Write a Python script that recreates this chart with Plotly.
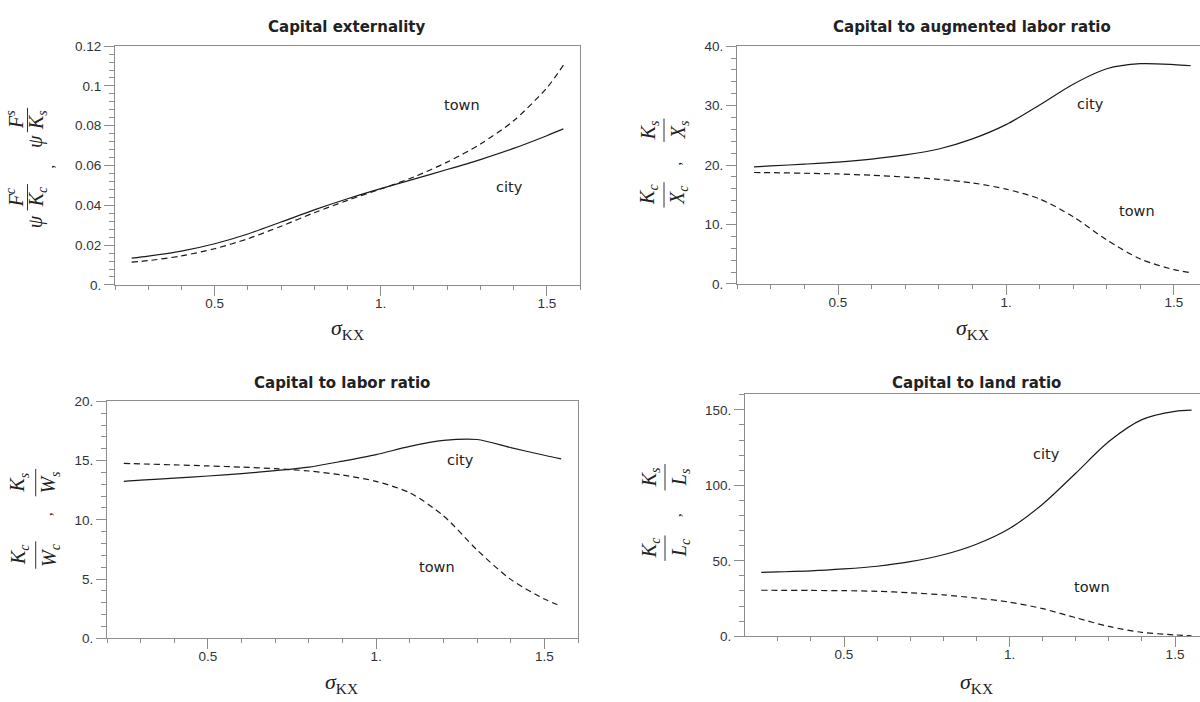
import plotly.graph_objects as go

# ---------------- data ----------------
sigma = [0.25, 0.3, 0.4, 0.5, 0.6, 0.7, 0.8, 0.9, 1.0, 1.1, 1.2, 1.3, 1.4, 1.5, 1.55]

ext_city = [0.0135, 0.0145, 0.0170, 0.0207, 0.0256, 0.0316, 0.0377, 0.0433, 0.0484, 0.0532, 0.0580, 0.0630, 0.0686, 0.0750, 0.0784]
ext_town = [0.0115, 0.0122, 0.0146, 0.0182, 0.0232, 0.0295, 0.0363, 0.0425, 0.0482, 0.0543, 0.0617, 0.0708, 0.0825, 0.0990, 0.1105]

aug_city = [19.7, 19.85, 20.15, 20.5, 21.0, 21.7, 22.7, 24.4, 26.8, 30.1, 33.6, 36.2, 37.05, 36.9, 36.7]
aug_town = [18.75, 18.72, 18.62, 18.5, 18.28, 17.98, 17.6, 17.0, 15.95, 14.3, 11.3, 7.4, 4.2, 2.4, 1.9]

lab_city = [13.24, 13.35, 13.52, 13.7, 13.9, 14.15, 14.45, 14.95, 15.5, 16.2, 16.7, 16.78, 16.1, 15.45, 15.15]
lab_town = [14.76, 14.72, 14.64, 14.55, 14.45, 14.32, 14.12, 13.78, 13.24, 12.28, 10.34, 7.45, 4.97, 3.31, 2.7]

land_city = [42.3, 42.6, 43.3, 44.6, 46.4, 49.4, 54.0, 61.0, 71.4, 87.5, 108.0, 129.0, 143.5, 149.0, 149.8]
land_town = [30.5, 30.45, 30.35, 30.2, 29.8, 28.8, 27.4, 25.3, 22.6, 18.3, 12.3, 6.5, 2.6, 0.9, 0.3]

x_tickvals = [0.5, 1.0, 1.5]
x_ticktext = ["0.5", "1.", "1.5"]
ext_tickvals = [0, 0.02, 0.04, 0.06, 0.08, 0.1, 0.12]
ext_ticktext = ["0.", "0.02", "0.04", "0.06", "0.08", "0.1", "0.12"]
aug_tickvals = [0, 10, 20, 30, 40]
aug_ticktext = ["0.", "10.", "20.", "30.", "40."]
lab_tickvals = [0, 5, 10, 15, 20]
lab_ticktext = ["0.", "5.", "10.", "15.", "20."]
land_tickvals = [0, 50, 100, 150]
land_ticktext = ["0.", "50.", "100.", "150."]

titles = ["Capital externality", "Capital to augmented labor ratio",
          "Capital to labor ratio", "Capital to land ratio"]

# ---------------- layout helpers ----------------
W, H = 1200, 702
def px(x):
    return x / W
def py(y):
    return 1 - y / H

LINE = "#1a1a1a"
AXC = "#8c8c8c"
TXT = "#222222"
SERIF = "Liberation Serif"
SANS = "DejaVu Sans"
TICKF = "Liberation Sans"

fig = go.Figure()

panels = [
    dict(city=ext_city, town=ext_town, xd=(115, 580), yd=(40, 284), xr=[0.2, 1.6], yr=[0, 0.12],
         tv=ext_tickvals, tt=ext_ticktext, mdy=0.004, my=True),
    dict(city=aug_city, town=aug_town, xd=(737, 1200), yd=(40, 283), xr=[0.1994, 1.5774], yr=[0, 40],
         tv=aug_tickvals, tt=aug_ticktext, mdy=2, my=False),
    dict(city=lab_city, town=lab_town, xd=(107, 578), yd=(403, 645), xr=[0.2, 1.6], yr=[0, 20],
         tv=lab_tickvals, tt=lab_ticktext, mdy=1, my=True),
    dict(city=land_city, town=land_town, xd=(745, 1200), yd=(395, 643), xr=[0.2009, 1.5755], yr=[0, 160.8],
         tv=land_tickvals, tt=land_ticktext, mdy=10, my=False),
]

layout_axes = {}
for i, p in enumerate(panels, start=1):
    sfx = "" if i == 1 else str(i)
    fig.add_trace(go.Scatter(x=sigma, y=p["city"], mode="lines", xaxis="x" + sfx, yaxis="y" + sfx,
                             line=dict(color=LINE, width=1.2, shape="spline", smoothing=0.8),
                             showlegend=False, hoverinfo="skip"))
    fig.add_trace(go.Scatter(x=sigma, y=p["town"], mode="lines", xaxis="x" + sfx, yaxis="y" + sfx,
                             line=dict(color=LINE, width=1.2, dash="6px,4px", shape="spline", smoothing=0.8),
                             showlegend=False, hoverinfo="skip"))
    common = dict(showgrid=False, zeroline=False, showline=True, linecolor=AXC, linewidth=1,
                  ticks="outside", tickcolor=AXC, tickwidth=1, ticklen=10,
                  tickfont=dict(family=TICKF, size=13.5, color="#333333"))
    layout_axes["xaxis" + sfx] = dict(
        domain=[px(p["xd"][0]), px(p["xd"][1])], range=p["xr"], anchor="y" + sfx,
        tickmode="array", tickvals=x_tickvals, ticktext=x_ticktext, mirror=True,
        ticklabelstandoff=-4,
        minor=dict(ticks="outside", ticklen=4, tickcolor=AXC, tick0=0.2, dtick=0.1),
        **common)
    layout_axes["yaxis" + sfx] = dict(
        domain=[py(p["yd"][1]), py(p["yd"][0])], range=p["yr"], anchor="x" + sfx,
        tickmode="array", tickvals=p["tv"], ticktext=p["tt"], mirror=p["my"],
        minor=dict(ticks="outside", ticklen=5, tickcolor=AXC, tick0=0, dtick=p["mdy"]),
        **common)

fig.update_layout(**layout_axes)

ann = []
def text(x, y, s, size=13, family=SANS, angle=0, color=TXT):
    ann.append(dict(x=px(x), y=py(y), xref="paper", yref="paper", text=s, showarrow=False,
                    xanchor="center", yanchor="middle", textangle=angle,
                    font=dict(family=family, size=size, color=color)))

# titles
title_pos = [(347, 20), (972, 20), (342, 384), (976, 384)]
for t, (x, y) in zip(titles, title_pos):
    text(x, y, "<b>" + t + "</b>", size=15)

# curve labels
for (x, y, s) in [(462, 100, "town"), (509, 184, "city"),
                  (1090, 99, "city"), (1137, 208, "town"),
                  (460, 463, "city"), (437, 572, "town"),
                  (1046, 457, "city"), (1092, 593, "town")]:
    text(x, y, s, size=14.5)

# x-axis titles
for (x, y) in [(347, 329), (972, 329), (342, 691), (976, 691)]:
    text(x, y, "<i>σ</i><sub>KX</sub>", size=22, family=SERIF)

shapes = []
FS = 20
def frac(num, den, bx, yt, yb, nx, dx, size=FS):
    yc = (yt + yb) / 2
    text(nx, yc, num, size=size, family=SERIF, angle=-90)
    text(dx, yc, den, size=size, family=SERIF, angle=-90)
    shapes.append(dict(type="line", xref="paper", yref="paper", x0=px(bx), x1=px(bx),
                       y0=py(yt), y1=py(yb), line=dict(color="#333333", width=1)))

# panel 1 y-title: psi F^c/K_c , psi F^s/K_s
frac("<i>F</i><sup><i>c</i></sup>", "<i>K</i><sub><i>c</i></sub>", 27.5, 181, 208, 15, 37)
text(35, 220, "<i>ψ</i>", size=FS, family=SERIF, angle=-90)
frac("<i>F</i><sup><i>s</i></sup>", "<i>K</i><sub><i>s</i></sub>", 27.5, 103, 128, 15, 37)
text(35, 138, "<i>ψ</i>", size=FS, family=SERIF, angle=-90)
text(49, 163, ",", size=15, family=SERIF, angle=-90)

# panel 2
frac("<i>K</i><sub><i>c</i></sub>", "<i>X</i><sub><i>c</i></sub>", 664, 179, 205, 649, 679)
frac("<i>K</i><sub><i>s</i></sub>", "<i>X</i><sub><i>s</i></sub>", 664, 114, 138, 649, 679)
text(676, 160, ",", size=15, family=SERIF, angle=-90)

# panel 3
frac("<i>K</i><sub><i>c</i></sub>", "<i>W</i><sub><i>c</i></sub>", 35.7, 546, 574, 19, 50)
frac("<i>K</i><sub><i>s</i></sub>", "<i>W</i><sub><i>s</i></sub>", 35.7, 472, 500, 19, 50)
text(47, 518, ",", size=15, family=SERIF, angle=-90)

# panel 4
frac("<i>K</i><sub><i>c</i></sub>", "<i>L</i><sub><i>c</i></sub>", 665, 540, 566, 650, 680)
frac("<i>K</i><sub><i>s</i></sub>", "<i>L</i><sub><i>s</i></sub>", 665, 467, 494, 650, 680)
text(676, 519, ",", size=15, family=SERIF, angle=-90)

fig.update_layout(
    width=W, height=H,
    margin=dict(l=0, r=0, t=0, b=0),
    paper_bgcolor="white", plot_bgcolor="white",
    annotations=ann, shapes=shapes,
    showlegend=False,
)

fig.write_html("out.html", config={"displayModeBar": False},
               post_script="document.body.style.margin='0';document.body.style.overflow='hidden';")
